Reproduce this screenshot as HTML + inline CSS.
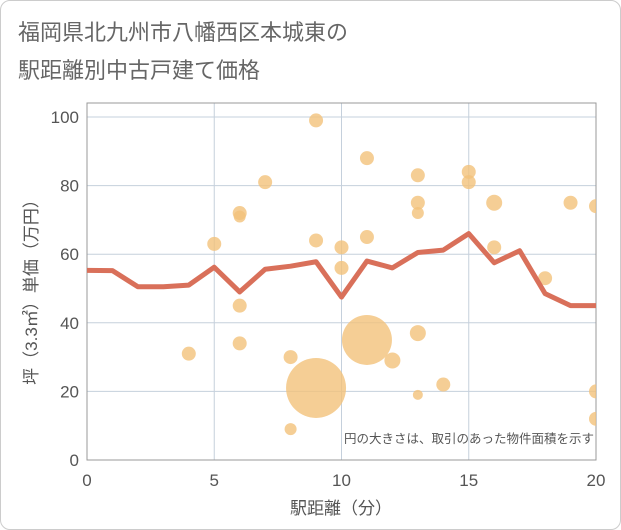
<!DOCTYPE html><html><head><meta charset="utf-8"><style>
body{margin:0;background:#fff;font-family:"Liberation Sans","Noto Sans CJK JP",sans-serif}
#wrap{position:relative;width:619px;height:528px;border:1px solid #ccc;border-radius:10px;overflow:hidden}
.t{position:absolute;left:17px;color:#666;font-size:22px;letter-spacing:0px}
</style></head><body>
<div id="wrap">
<div class="t" style="top:14px">福岡県北九州市八幡西区本城東の</div>
<div class="t" style="top:52px">駅距離別中古戸建て価格</div>
<svg id="c" width="621" height="530" style="position:absolute;left:-1px;top:-1px"></svg>
</div>
<script>
const lineX=[0,1,2,3,4,5,6,7,8,9,10,11,12,13,14,15,16,17,18,19,20];
const lineY=[55.3,55.2,50.5,50.5,51,56.2,49,55.6,56.5,57.8,47.5,58,56,60.5,61.2,66,57.5,61,48.5,45,45];
const bubX=[4,5,6,6,6,6,7,8,8,9,9,9,10,10,11,11,11,12,13,13,13,13,13,14,15,15,16,16,18,19,20,20,20];
const bubY=[31,63,72,71,45,34,81,30,9,99,64,21,62,56,88,65,35,29,83,75,72,37,19,22,84,81,75,62,53,75,74,20,12];
const bubR=[7,7,7,6,7,7,7,7,6,7,7,30,7,7,7,7,25,8,7,7,6,8,5,7,7,7,8,7,7,7,7,7,7];
const xTicks=[0,5,10,15,20];
const yTicks=[0,20,40,60,80,100];
const L=87,R=596,T=103,B=460;
const sx=v=>L+(R-L)*v/20, sy=v=>B-(B-117)*v/100;
const s=document.getElementById('c');const NS='http://www.w3.org/2000/svg';
function mk(tag,a,p){const e=document.createElementNS(NS,tag);for(const k in a)e.setAttribute(k,a[k]);(p||s).appendChild(e);return e;}
const grid=mk('g',{});


xTicks.forEach(v=>{mk('line',{x1:sx(v),x2:sx(v),y1:T,y2:B,stroke:'#c5d0dc','stroke-width':1},grid);
const t=mk('text',{x:sx(v),y:486,'text-anchor':'middle','font-size':17,fill:'#555'});t.textContent=v;

});
yTicks.forEach(v=>{mk('line',{x1:L,x2:R,y1:sy(v),y2:sy(v),stroke:'#c5d0dc','stroke-width':1},grid);
const t=mk('text',{x:79,y:sy(v)+6,'text-anchor':'end','font-size':17,fill:'#555'});t.textContent=v;

});
const fr=mk('rect',{x:L,y:T,width:R-L,height:B-T,fill:'none',stroke:'#999','stroke-width':1});


const bg=mk('g',{'clip-path':'url(#cp)'});
const cp=mk('clipPath',{id:'cp'});mk('rect',{x:L,y:T,width:R-L,height:B-T},cp);
bubX.forEach((x,i)=>{const c=mk('circle',{cx:sx(x),cy:sy(bubY[i]),r:bubR[i],fill:'#f2c27a','fill-opacity':0.8},bg);

});
const pl=mk('polyline',{points:lineX.map((x,i)=>sx(x)+','+sy(lineY[i])).join(' '),fill:'none',stroke:'#d9705a','stroke-width':5,'stroke-linejoin':'round'});


const n=mk('text',{x:594,y:443,'text-anchor':'end','font-size':12.5,fill:'#555'});n.textContent='円の大きさは、取引のあった物件面積を示す';


const xt=mk('text',{x:341,y:514,'text-anchor':'middle','font-size':17,fill:'#555'});xt.textContent='駅距離（分）';


const yt=mk('text',{x:0,y:0,'text-anchor':'middle','font-size':17,fill:'#555',transform:'translate(37,288) rotate(-90)'});yt.textContent='坪（3.3㎡）単価（万円）';


</script></body></html>
